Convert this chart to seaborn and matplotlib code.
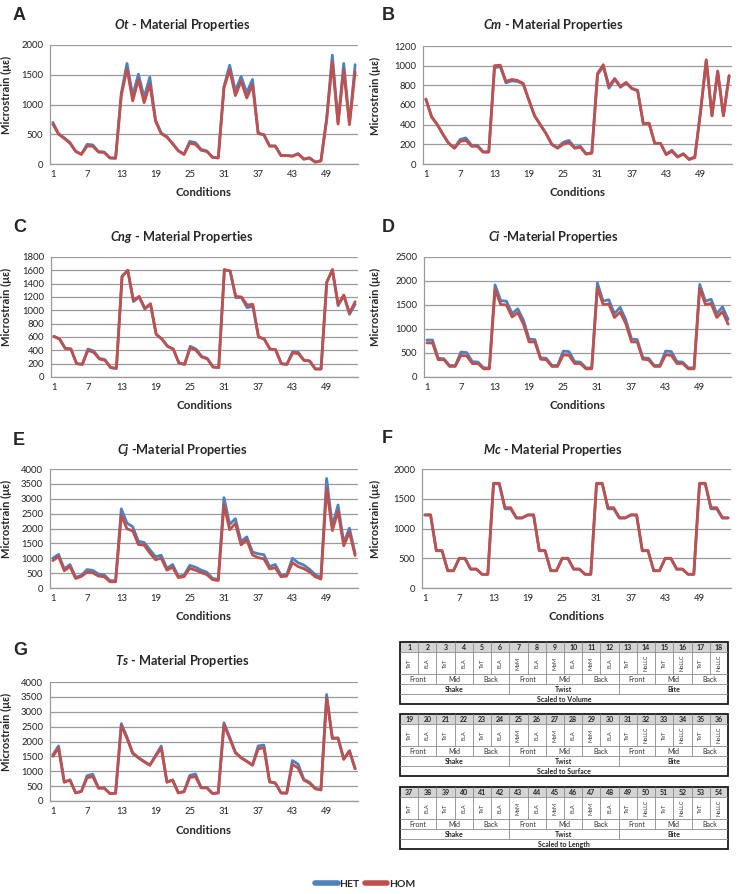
import matplotlib
matplotlib.use("Agg")
import pandas as pd
import matplotlib.pyplot as plt
from matplotlib.patches import Rectangle
import seaborn as sns

# ---- data ----
conditions = list(range(1, 55))
x_tick_labels = [1, 7, 13, 19, 25, 31, 37, 43, 49]

ot_het = [700, 510, 440, 360, 215, 165, 330, 320, 210, 200, 105, 100, 1190, 1690, 1150, 1510, 1120, 1460,
          740, 520, 460, 345, 225, 165, 380, 360, 245, 220, 115, 105, 1300, 1660, 1230, 1470, 1200, 1420,
          520, 495, 305, 305, 145, 145, 135, 175, 85, 105, 35, 55, 760, 1830, 700, 1690, 680, 1670]
ot_hom = [670, 500, 430, 350, 210, 160, 300, 300, 200, 195, 100, 95, 1150, 1600, 1060, 1420, 1030, 1340,
          720, 510, 450, 340, 220, 160, 350, 330, 230, 210, 110, 100, 1280, 1580, 1150, 1390, 1110, 1330,
          510, 490, 300, 300, 140, 140, 130, 170, 80, 100, 30, 50, 740, 1720, 670, 1580, 660, 1550]

cm_het = [660, 480, 400, 300, 210, 165, 250, 265, 190, 190, 125, 125, 980, 990, 825, 845, 840, 815,
          650, 490, 400, 310, 200, 165, 220, 240, 170, 180, 105, 115, 910, 990, 770, 860, 780, 825,
          765, 745, 410, 415, 210, 210, 100, 140, 75, 105, 50, 70, 530, 1055, 490, 940, 490, 895]
cm_hom = [660, 480, 400, 300, 210, 160, 230, 240, 180, 180, 120, 120, 1000, 1005, 840, 860, 850, 820,
          650, 490, 400, 310, 200, 160, 200, 220, 160, 170, 100, 110, 920, 1010, 790, 870, 790, 830,
          770, 750, 410, 415, 210, 210, 95, 130, 70, 100, 45, 65, 530, 1060, 490, 945, 490, 900]

cng_het = [610, 570, 430, 420, 200, 190, 420, 390, 280, 260, 140, 130, 1510, 1600, 1130, 1200, 1020, 1090,
           640, 570, 460, 420, 210, 190, 460, 420, 310, 280, 150, 140, 1610, 1590, 1190, 1190, 1040, 1060,
           600, 570, 420, 410, 200, 190, 380, 370, 250, 240, 120, 120, 1420, 1610, 1070, 1220, 940, 1090]
cng_hom = [610, 570, 430, 420, 200, 190, 400, 370, 270, 250, 140, 130, 1510, 1600, 1150, 1210, 1030, 1100,
           640, 570, 460, 420, 210, 190, 440, 400, 300, 270, 150, 140, 1610, 1590, 1210, 1200, 1080, 1090,
           600, 570, 420, 410, 200, 190, 360, 350, 250, 240, 120, 120, 1420, 1610, 1090, 1230, 960, 1130]

ci_het = [770, 770, 390, 380, 240, 240, 520, 510, 320, 310, 190, 190, 1920, 1590, 1580, 1320, 1420, 1180,
          790, 780, 400, 390, 240, 240, 540, 530, 320, 310, 190, 190, 1960, 1580, 1610, 1320, 1450, 1190,
          790, 780, 400, 390, 240, 240, 540, 530, 320, 310, 190, 190, 1930, 1580, 1620, 1320, 1460, 1200]
ci_hom = [710, 710, 360, 360, 220, 220, 450, 440, 280, 280, 170, 170, 1820, 1510, 1500, 1250, 1340, 1100,
          730, 730, 370, 360, 220, 220, 460, 450, 280, 280, 170, 170, 1860, 1510, 1520, 1240, 1350, 1110,
          730, 730, 370, 360, 220, 220, 460, 450, 280, 280, 170, 170, 1850, 1510, 1530, 1240, 1360, 1100]

cj_het = [1000, 1130, 640, 790, 360, 420, 620, 590, 470, 440, 250, 240, 2660, 2180, 2060, 1570, 1530, 1290,
          1050, 1100, 660, 790, 390, 430, 760, 700, 600, 530, 320, 290, 3040, 2140, 2330, 1560, 1720, 1210,
          1150, 1120, 720, 790, 430, 440, 1000, 850, 770, 630, 450, 350, 3680, 2080, 2790, 1520, 2010, 1150]
cj_hom = [920, 1060, 580, 720, 320, 390, 530, 510, 400, 380, 210, 210, 2440, 1990, 1920, 1460, 1440, 1180,
          950, 1000, 600, 700, 350, 380, 660, 600, 520, 450, 280, 250, 2780, 1960, 2170, 1450, 1620, 1110,
          1020, 980, 640, 680, 380, 400, 850, 720, 650, 540, 380, 300, 3350, 1930, 2580, 1420, 1870, 1090]

mc_het = [1225, 1225, 625, 625, 290, 290, 495, 495, 315, 315, 230, 230, 1750, 1750, 1330, 1330, 1175, 1175,
          1225, 1225, 625, 625, 290, 290, 495, 495, 315, 315, 230, 230, 1750, 1750, 1330, 1330, 1175, 1175,
          1225, 1225, 625, 625, 290, 290, 495, 495, 315, 315, 230, 230, 1750, 1750, 1330, 1330, 1175, 1175]
mc_hom = [1230, 1230, 630, 630, 290, 290, 500, 500, 320, 320, 230, 230, 1760, 1760, 1350, 1350, 1180, 1180,
          1230, 1230, 630, 630, 290, 290, 500, 500, 320, 320, 230, 230, 1760, 1760, 1350, 1350, 1180, 1180,
          1230, 1230, 630, 630, 290, 290, 500, 500, 320, 320, 230, 230, 1760, 1760, 1350, 1350, 1180, 1180]

ts_het = [1550, 1850, 640, 710, 275, 330, 850, 900, 440, 440, 255, 265, 2600, 2150, 1620, 1460, 1330, 1210,
          1530, 1850, 640, 710, 275, 320, 860, 910, 450, 450, 255, 275, 2630, 2150, 1640, 1460, 1340, 1210,
          1850, 1880, 650, 610, 275, 265, 1360, 1240, 730, 630, 430, 380, 3580, 2120, 2120, 1410, 1690, 1090]
ts_hom = [1500, 1780, 630, 700, 270, 320, 780, 820, 430, 430, 250, 260, 2530, 2100, 1600, 1450, 1320, 1200,
          1500, 1780, 630, 700, 270, 310, 790, 820, 440, 440, 250, 270, 2560, 2100, 1620, 1450, 1330, 1200,
          1750, 1790, 640, 600, 270, 260, 1230, 1110, 700, 600, 410, 370, 3450, 2100, 2110, 1400, 1680, 1080]

# table labels
methods = ["TeT", "ELA", "TeT", "ELA", "TeT", "ELA", "MeM", "ELA", "MeM", "ELA", "MeM", "ELA",
           "TeT", "NoLLC", "TeT", "NoLLC", "TeT", "NoLLC"]
positions = ["Front", "Mid", "Back", "Front", "Mid", "Back", "Front", "Mid", "Back"]
loads = ["Shake", "Twist", "Bite"]
scalings = ["Scaled to Volume", "Scaled to Surface", "Scaled to Length"]

# panel letter, species, title rest, y max, y step, het, hom
panels = [
    ("A", "Ot", " - Material Properties", 2000, 500, ot_het, ot_hom),
    ("B", "Cm", " - Material Properties", 1200, 200, cm_het, cm_hom),
    ("C", "Cng", " - Material Properties", 1800, 200, cng_het, cng_hom),
    ("D", "Ci", " -Material Properties", 2500, 500, ci_het, ci_hom),
    ("E", "Cj", " -Material Properties", 4000, 500, cj_het, cj_hom),
    ("F", "Mc", " - Material Properties", 2000, 500, mc_het, mc_hom),
    ("G", "Ts", " - Material Properties", 4000, 500, ts_het, ts_hom),
]

rows = []
for letter, sp, _, _, _, het, hom in panels:
    for c, h, o in zip(conditions, het, hom):
        rows.append((letter, c, "HET", h))
        rows.append((letter, c, "HOM", o))
df = pd.DataFrame(rows, columns=["panel", "condition", "genotype", "strain"])

# ---- style ----
sns.set_style("white")
plt.rcParams["font.family"] = ["Lato", "DejaVu Sans"]
plt.rcParams["mathtext.fontset"] = "custom"
plt.rcParams["mathtext.it"] = "Lato:italic:bold"
plt.rcParams["mathtext.rm"] = "Lato:bold"

W, H = 739, 894
fig = plt.figure(figsize=(W / 100, H / 100), dpi=100)


def px_rect(x0, y0, x1, y1):
    return [x0 / W, 1 - y1 / H, (x1 - x0) / W, (y1 - y0) / H]


# axes boxes in pixels (left, top, right, bottom), letter pos, title pos
layout = {
    "A": ((50, 45, 358, 164), (13, 20), (182, 29)),
    "B": ((423, 46, 732, 164), (382, 20), (553, 29)),
    "C": ((51, 257, 358, 377), (13, 232), (182, 241)),
    "D": ((424, 257, 731, 377), (382, 232), (553, 241)),
    "E": ((50, 469, 358, 588), (13, 445), (182, 454)),
    "F": ((422, 469, 731, 588), (382, 443), (553, 454)),
    "G": ((50, 682, 358, 801), (13, 655), (182, 665)),
}

blue, red = "#4F81BD", "#C0504D"
grid_c = "#9A9A9A"

axes = []
for letter, sp, rest, ymax, ystep, het, hom in panels:
    box, lpos, tpos = layout[letter]
    ax = fig.add_axes(px_rect(*box))
    sns.lineplot(data=df[df.panel == letter], x="condition", y="strain", hue="genotype",
                 hue_order=["HET", "HOM"], palette={"HET": blue, "HOM": red},
                 linewidth=2.0, ax=ax, legend=False)
    ax.set_xlim(0.5, 54.5)
    ax.set_ylim(0, ymax)
    ax.set_yticks(range(0, ymax + 1, ystep))
    ax.set_xticks(x_tick_labels)
    ax.set_xticks([0.5 + 6 * k for k in range(10)], minor=True)
    ax.yaxis.grid(True, color=grid_c, lw=0.9)
    ax.set_axisbelow(True)
    for s in ["top", "right"]:
        ax.spines[s].set_visible(False)
    for s in ["left", "bottom"]:
        ax.spines[s].set_color(grid_c)
        ax.spines[s].set_linewidth(0.9)
    ax.tick_params(axis="y", length=3, color=grid_c, labelsize=6.8, pad=2, colors="#222222")
    ax.tick_params(axis="x", which="major", length=0, labelsize=6.8, pad=4, colors="#222222")
    ax.tick_params(axis="x", which="minor", length=3, color=grid_c)
    ax.set_xlabel("Conditions", fontsize=8.3, fontweight="bold")
    ax.set_ylabel("Microstrain (με)", fontsize=8, fontweight="bold")
    ax.xaxis.set_label_coords(0.5, -(29 / (box[3] - box[1])))
    ax.xaxis.label.set_va("center")
    ax.yaxis.set_label_coords(-(box[0] - lpos[0] + 1) / (box[2] - box[0]), 0.58)
    fig.text(lpos[0] / W, 1 - lpos[1] / H, letter, fontsize=13, fontweight="bold",
             family="Liberation Sans", va="baseline", ha="left")
    fig.text(tpos[0] / W, 1 - tpos[1] / H, rf"$\mathit{{{sp}}}${rest}", fontsize=9.2,
             fontweight="bold", ha="center", va="baseline")
    axes.append(ax)

# ---- condition key table ----
table_tops = [642, 714, 787]
row_edges = [0, 1, 3.2, 4.2, 5.2, 6.2]
line_c = "#8A8A8A"
for b, top in enumerate(table_tops):
    tax = fig.add_axes(px_rect(400, top, 728, top + 62))
    tax.set_xlim(0, 18)
    tax.set_ylim(6.2, 0)
    tax.axis("off")
    tax.add_patch(Rectangle((0, 0), 18, 1, facecolor="#D4D4D4", edgecolor="none"))
    for y in row_edges[1:-1]:
        tax.plot([0, 18], [y, y], color=line_c, lw=0.6)
    for k in range(1, 18):
        tax.plot([k, k], [0, 3.2], color=line_c, lw=0.6)
    for k in range(2, 18, 2):
        tax.plot([k, k], [3.2, 4.2], color=line_c, lw=0.6)
    for k in (6, 12):
        tax.plot([k, k], [4.2, 5.2], color=line_c, lw=0.6)
    tax.add_patch(Rectangle((0, 0), 18, 6.2, facecolor="none", edgecolor="#1a1a1a", lw=1.3,
                            clip_on=False))
    nums = conditions[18 * b:18 * (b + 1)]
    for k in range(18):
        tax.text(k + 0.5, 0.55, str(nums[k]), ha="center", va="center", fontsize=5, fontweight="bold")
        tax.text(k + 0.5, 2.1, methods[k], ha="center", va="center", fontsize=4, rotation=90,
                 color="#333333")
    for k, p in enumerate(positions):
        tax.text(2 * k + 1, 3.72, p, ha="center", va="center", fontsize=5, color="#333333")
    for k, l in enumerate(loads):
        tax.text(6 * k + 3, 4.72, l, ha="center", va="center", fontsize=5, fontweight="bold")
    tax.text(9, 5.72, scalings[b], ha="center", va="center", fontsize=5, fontweight="bold")

# ---- legend ----
handles = axes[0].get_lines()[:2]
leg = fig.legend(handles, ["HET", "HOM"], loc="center", bbox_to_anchor=(365 / W, 1 - 884 / H),
                 ncol=2, frameon=False, handlelength=2.2, handletextpad=0.15, columnspacing=0.5,
                 prop={"weight": "bold", "size": 7.5})
for ln in leg.get_lines():
    ln.set_linewidth(4)
    ln.set_solid_capstyle("round")

fig.savefig("out.png", dpi=100)
